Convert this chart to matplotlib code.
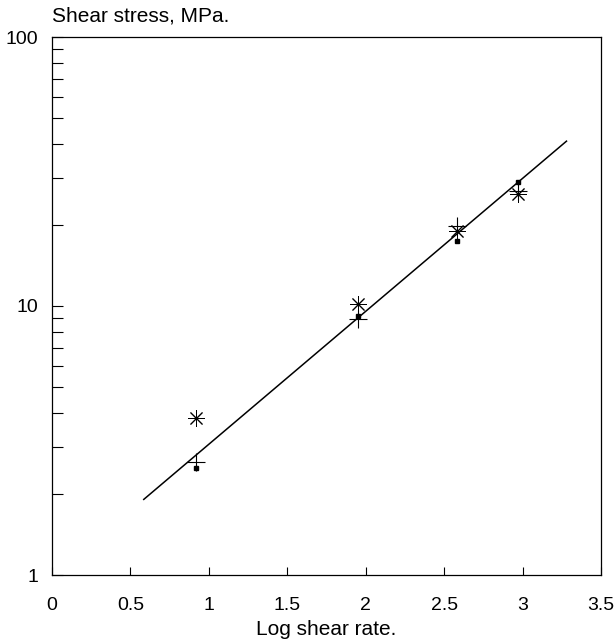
import matplotlib
matplotlib.use("Agg")
import matplotlib.pyplot as plt
from matplotlib.ticker import LogLocator, FixedLocator, NullFormatter

plt.rcParams["font.family"] = ["Liberation Sans", "DejaVu Sans"]

# Valori
x_star = [0.92, 1.95, 2.58, 2.97]
y_star = [3.85, 10.2, 19.0, 26.0]
x_plus = [0.92, 1.95, 2.58, 2.97]
y_plus = [2.64, 8.95, 19.8, 26.8]
x_sq = [0.92, 1.95, 2.58, 2.97]
y_sq = [2.5, 9.2, 17.5, 28.8]
x_fit = [0.585, 3.28]
y_fit = [1.91, 41.0]

x_ticks = [0, 0.5, 1, 1.5, 2, 2.5, 3, 3.5]
x_tick_labels = ["0", "0.5", "1", "1.5", "2", "2.5", "3", "3.5"]
y_ticks = [1, 10, 100]
y_tick_labels = ["1", "10", "100"]

fig = plt.figure(figsize=(6.16, 6.43), dpi=100)
ax = fig.add_axes([52 / 616, 68 / 643, 549 / 616, 538 / 643])

# Retta di regressione
ax.plot(x_fit, y_fit, color="black", linewidth=1.1, zorder=2)

# Punti sperimentali
ax.plot(x_star, y_star, linestyle="none", marker=(8, 2, 0), markersize=12,
        markeredgewidth=0.7, color="black", zorder=3)
ax.plot(x_plus, y_plus, linestyle="none", marker="+", markersize=13,
        markeredgewidth=0.8, color="black", zorder=3)
ax.plot(x_sq, y_sq, linestyle="none", marker="s", markersize=3,
        color="black", zorder=4)

ax.set_yscale("log")
ax.set_xlim(0, 3.5)
ax.set_ylim(1, 100)

ax.xaxis.set_major_locator(FixedLocator(x_ticks))
ax.set_xticklabels(x_tick_labels)
ax.yaxis.set_major_locator(FixedLocator(y_ticks))
ax.set_yticklabels(y_tick_labels)
ax.yaxis.set_minor_locator(LogLocator(base=10, subs=range(2, 10)))
ax.yaxis.set_minor_formatter(NullFormatter())

ax.tick_params(axis="both", which="both", direction="in", labelsize=14,
               width=0.8, color="black")
ax.tick_params(axis="x", which="major", length=6, pad=16)
ax.tick_params(axis="y", which="major", length=8, pad=10)
ax.tick_params(axis="y", which="minor", length=8)
ax.tick_params(top=False, right=False)

for s in ax.spines.values():
    s.set_linewidth(0.9)

ax.set_xlabel("Log shear rate.", fontsize=15, labelpad=4)
ax.text(0.0, 1.022, "Shear stress, MPa.", transform=ax.transAxes,
        fontsize=15, ha="left", va="bottom")

fig.savefig("out.png", dpi=100)
